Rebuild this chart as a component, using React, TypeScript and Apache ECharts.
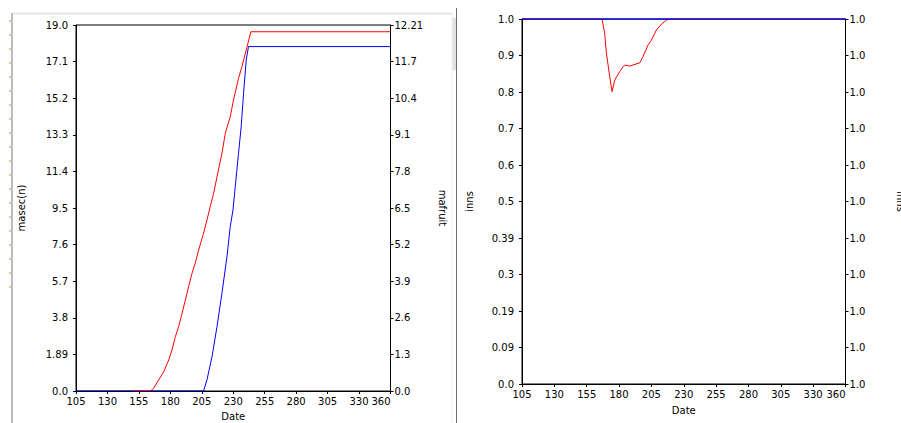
import React, { useEffect, useRef } from "react";
import * as echarts from "echarts";

// ---- data ----
const xTickLabels = ["105", "130", "155", "180", "205", "230", "255", "280", "305", "330", "360"];
const leftYLabels = ["0.0", "1.89", "3.8", "5.7", "7.6", "9.5", "11.4", "13.3", "15.2", "17.1", "19.0"];
const leftY2Labels = ["0.0", "1.3", "2.6", "3.9", "5.2", "6.5", "7.8", "9.1", "10.4", "11.7", "12.21"];
const rightYLabels = ["0.0", "0.09", "0.19", "0.3", "0.39", "0.5", "0.6", "0.7", "0.8", "0.9", "1.0"];
const rightY2Labels = ["1.0", "1.0", "1.0", "1.0", "1.0", "1.0", "1.0", "1.0", "1.0", "1.0", "1.0"];

// left chart: masec(n) (red, left axis)
const masecDays = [151, 164, 166.7, 170.7, 174.7, 178.7, 181.3, 184, 186.6, 189.3, 191.9, 194.5, 197.2, 199.8, 202.5, 206.4, 209.1, 211.7, 214.4, 217.1, 221, 223.7, 227.6, 230.2, 234.2, 236.9, 240.3, 244, 355];
const masecValues = [0, 0, 0.14, 0.57, 1.0, 1.61, 2.13, 2.82, 3.34, 4.03, 4.72, 5.41, 6.11, 6.63, 7.32, 8.19, 8.88, 9.57, 10.26, 11.12, 12.34, 13.38, 14.24, 15.11, 16.23, 16.84, 17.7, 18.65, 18.65];
// left chart: mafruit (blue, right axis)
const mafruitDays = [105, 206.4, 209.1, 213.1, 217.1, 221, 225, 227.6, 229.8, 231.6, 234.2, 236.3, 238.2, 240.3, 242.1, 355];
const mafruitValues = [0, 0, 0.37, 1.14, 2.15, 3.26, 4.48, 5.48, 6.04, 6.82, 7.93, 8.82, 9.93, 11.04, 11.49, 11.49];
// right chart: inns (red)
const innsDays = [105, 166.8, 168.9, 170.2, 172.8, 174.6, 176.7, 180.5, 183.1, 184.4, 188.3, 190.8, 196, 198.5, 202.4, 205, 208.9, 212.8, 216.6, 219.2, 355];
const innsValues = [1, 1, 0.961, 0.907, 0.842, 0.801, 0.833, 0.856, 0.869, 0.874, 0.871, 0.874, 0.88, 0.897, 0.929, 0.942, 0.97, 0.986, 0.997, 1, 1];
// right chart: second series (blue)
const inns2Days = [105, 355];
const inns2Values = [1, 1];

const FONT = "DejaVu Sans";
const X_MIN = 105;
const X_MAX = 355;
const X_STEP = 25;

function pairs(xs: number[], ys: number[]) {
  return xs.map((x, i) => [x, ys[i]]);
}

export default function App() {
  const ref = useRef<HTMLDivElement>(null);
  useEffect(() => {
    if (!ref.current) return;
    const chart = echarts.init(ref.current, null, { renderer: "svg" });
    const txt = { color: "#000", fontFamily: FONT, fontSize: 10 };
    const xAxisBase = (gridIndex: number, nameGap: number) => ({
      type: "value",
      gridIndex,
      min: X_MIN,
      max: X_MAX,
      interval: X_STEP,
      axisLine: { show: true, lineStyle: { color: "#000", width: 1 } },
      axisTick: { show: true, length: 3, lineStyle: { color: "#000" } },
      splitLine: { show: false },
      axisLabel: {
        ...txt,
        margin: 5,
        showMinLabel: true,
        showMaxLabel: true,
        alignMaxLabel: "right",
        hideOverlap: false,
        formatter: (v: number) => xTickLabels[Math.round((v - X_MIN) / X_STEP)] ?? "",
      },
      name: "Date",
      nameLocation: "middle",
      nameGap,
      nameTextStyle: { ...txt },
    });
    const yAxisBase = (
      gridIndex: number,
      position: string,
      max: number,
      labels: string[],
      name: string,
      nameGap: number,
      nameRotate: number,
      margin: number
    ) => ({
      type: "value",
      gridIndex,
      position,
      min: 0,
      max,
      interval: max / 10,
      axisLine: { show: true, lineStyle: { color: "#000", width: 1 } },
      axisTick: { show: true, length: 3, lineStyle: { color: "#000" } },
      splitLine: { show: false },
      axisLabel: {
        ...txt,
        margin,
        showMinLabel: true,
        showMaxLabel: true,
        formatter: (v: number) => labels[Math.round((v / max) * 10)] ?? "",
      },
      name,
      nameLocation: "middle",
      nameGap,
      nameRotate,
      nameTextStyle: { ...txt },
    });

    chart.setOption({
      animation: false,
      backgroundColor: "#fff",
      grid: [
        { left: 76, top: 25, width: 314.5, height: 366, outerBoundsMode: "none", containLabel: false, show: true, borderColor: "#000", borderWidth: 1, backgroundColor: "transparent" },
        { left: 522, top: 19, width: 323.5, height: 365, outerBoundsMode: "none", containLabel: false, show: true, borderColor: "#000", borderWidth: 1, backgroundColor: "transparent" },
      ],
      xAxis: [xAxisBase(0, 20), xAxisBase(1, 21)],
      yAxis: [
        yAxisBase(0, "left", 19, leftYLabels, "masec(n)", 50, 90, 8),
        yAxisBase(0, "right", 12.21, leftY2Labels, "mafruit", 47, -90, 4),
        yAxisBase(1, "left", 1, rightYLabels, "inns", 48, 90, 8),
        yAxisBase(1, "right", 1, rightY2Labels, "inns", 50, -90, 4),
      ],
      series: [
        {
          type: "line", xAxisIndex: 0, yAxisIndex: 1, data: pairs(mafruitDays, mafruitValues),
          showSymbol: false, symbol: "none", lineStyle: { color: "#0000ff", width: 1 }, itemStyle: { color: "#0000ff" },
        },
        {
          type: "line", xAxisIndex: 0, yAxisIndex: 0, data: pairs(masecDays, masecValues),
          showSymbol: false, symbol: "none", lineStyle: { color: "#ff0000", width: 1 }, itemStyle: { color: "#ff0000" },
        },
        {
          type: "line", xAxisIndex: 1, yAxisIndex: 2, data: pairs(innsDays, innsValues),
          showSymbol: false, symbol: "none", lineStyle: { color: "#ff0000", width: 1 }, itemStyle: { color: "#ff0000" },
        },
        {
          type: "line", xAxisIndex: 1, yAxisIndex: 3, data: pairs(inns2Days, inns2Values),
          showSymbol: false, symbol: "none", lineStyle: { color: "#0000ff", width: 1.5 }, itemStyle: { color: "#0000ff" },
        },
      ],
      graphic: [
        { type: "line", shape: { x1: 12, y1: 13, x2: 12, y2: 423 }, style: { stroke: "#7a7a7a", lineWidth: 1 }, silent: true },
        { type: "line", shape: { x1: 10, y1: 20, x2: 10, y2: 300 }, style: { stroke: "#d0903a", lineWidth: 1, lineDash: [2, 12] }, silent: true },
        { type: "line", shape: { x1: 13, y1: 13.5, x2: 452, y2: 13.5 }, style: { stroke: "#e6e6e6", lineWidth: 2 }, silent: true },
        { type: "line", shape: { x1: 452, y1: 13, x2: 452, y2: 423 }, style: { stroke: "#ececec", lineWidth: 1 }, silent: true },
        { type: "rect", shape: { x: 453, y: 18, width: 3, height: 52 }, style: { fill: "#e4e4e4", stroke: "#d8d8d8", lineWidth: 0.5 }, silent: true },
        { type: "line", shape: { x1: 456.5, y1: 8, x2: 456.5, y2: 423 }, style: { stroke: "#6a6a6a", lineWidth: 1 }, silent: true },
      ],
    });
    return () => chart.dispose();
  }, []);
  return <div ref={ref} style={{ position: "absolute", left: 0, top: 0, width: 901, height: 423 }} />;
}
